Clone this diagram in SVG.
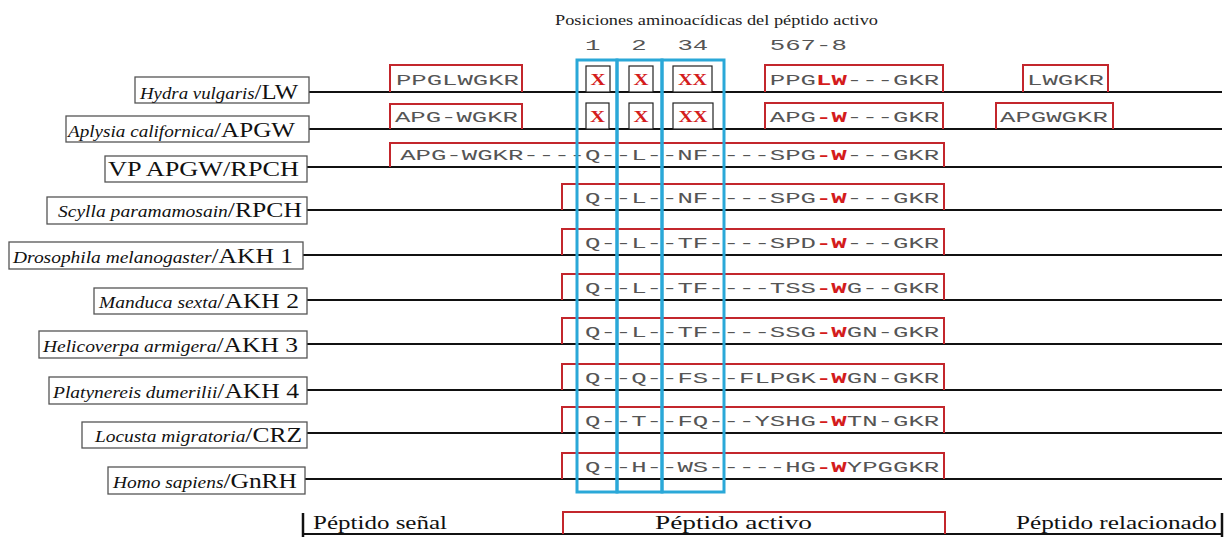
<svg xmlns="http://www.w3.org/2000/svg" width="1228" height="537" viewBox="0 0 1228 537">
<style>
.lbl{fill:none;stroke:#555;stroke-width:1.3}
.lt{font-family:"Liberation Serif",serif;fill:#111}
.it{font-style:italic;font-size:16px}
.up{font-size:21px}
.ln{stroke:#111;stroke-width:2;fill:none}
.rb{fill:none;stroke:#c3262c;stroke-width:2}
.seq{font-family:"Liberation Mono",monospace;font-size:15px;fill:#555}
.r{fill:#d41c1c;font-weight:bold}
.xb{fill:#fff;stroke:#222;stroke-width:1.2}
.xt{font-family:"Liberation Serif",serif;font-size:17px;font-weight:bold;fill:#d41c1c}
.blue{fill:none;stroke:#2aa8d8;stroke-width:3}
.hd{font-family:"Liberation Serif",serif;font-size:15px;fill:#222}
.num{font-family:"Liberation Mono",monospace;font-size:15px;fill:#555}
.lg{font-family:"Liberation Serif",serif;font-size:19px;fill:#111}
</style>

<g id="header">
<text class="hd" x="555" y="25" textLength="323" lengthAdjust="spacingAndGlyphs">Posiciones aminoacídicas del péptido activo</text>
<text class="num" x="585" y="50" textLength="15.4" lengthAdjust="spacingAndGlyphs">1</text>
<text class="num" x="631.2" y="50" textLength="15.4" lengthAdjust="spacingAndGlyphs">2</text>
<text class="num" x="677.4" y="50" textLength="30.8" lengthAdjust="spacingAndGlyphs">34</text>
<text class="num" x="769.8" y="50" textLength="77" lengthAdjust="spacingAndGlyphs">567-8</text>
</g>

<g id="connectors">
<line class="ln" x1="309" y1="92" x2="1222" y2="92"/>
<line class="ln" x1="309" y1="129" x2="1222" y2="129"/>
<line class="ln" x1="307" y1="167" x2="1222" y2="167"/>
<line class="ln" x1="307" y1="210" x2="1222" y2="210"/>
<line class="ln" x1="303" y1="255" x2="1222" y2="255"/>
<line class="ln" x1="307" y1="300" x2="1222" y2="300"/>
<line class="ln" x1="307" y1="344" x2="1222" y2="344"/>
<line class="ln" x1="307" y1="390" x2="1222" y2="390"/>
<line class="ln" x1="307" y1="433" x2="1222" y2="433"/>
<line class="ln" x1="305" y1="479" x2="1222" y2="479"/>
</g>

<g id="row-hydra">
<rect class="lbl" x="135" y="77" width="174" height="26"/>
<text class="lt" x="140" y="99" textLength="158" lengthAdjust="spacingAndGlyphs"><tspan class="it">Hydra vulgaris</tspan><tspan class="up" font-size="20">/LW</tspan></text>
<path class="rb" d="M390,92 V65 H522 V92"/>
<text class="seq" x="396" y="84.5" textLength="123" lengthAdjust="spacingAndGlyphs">PPGLWGKR</text>
<rect class="xb" x="586" y="66" width="24" height="26"/>
<text class="xt" x="590.5" y="85" textLength="15" lengthAdjust="spacingAndGlyphs">X</text>
<rect class="xb" x="629" y="66" width="24" height="26"/>
<text class="xt" x="633.5" y="85" textLength="15" lengthAdjust="spacingAndGlyphs">X</text>
<rect class="xb" x="673" y="66" width="39" height="26"/>
<text class="xt" x="678" y="85" textLength="29" lengthAdjust="spacingAndGlyphs">XX</text>
<path class="rb" d="M765,92 V65 H943 V92"/>
<text class="seq" x="769.8" y="84.5" textLength="169.4" lengthAdjust="spacingAndGlyphs">PPG<tspan class="r">LW</tspan>---GKR</text>
<path class="rb" d="M1023,92 V65 H1108 V92"/>
<text class="seq" x="1027" y="84.5" textLength="77" lengthAdjust="spacingAndGlyphs">LWGKR</text>
</g>

<g id="row-aplysia">
<rect class="lbl" x="66" y="116" width="243" height="26"/>
<text class="lt" x="68" y="137" textLength="227" lengthAdjust="spacingAndGlyphs"><tspan class="it">Aplysia californica</tspan><tspan class="up" font-size="20">/APGW</tspan></text>
<path class="rb" d="M390,129 V104 H522 V129"/>
<text class="seq" x="395" y="121.5" textLength="123" lengthAdjust="spacingAndGlyphs">APG-WGKR</text>
<rect class="xb" x="586" y="103" width="23" height="26"/>
<text class="xt" x="590" y="122" textLength="15" lengthAdjust="spacingAndGlyphs">X</text>
<rect class="xb" x="629" y="103" width="24" height="26"/>
<text class="xt" x="633.5" y="122" textLength="15" lengthAdjust="spacingAndGlyphs">X</text>
<rect class="xb" x="673" y="103" width="40" height="26"/>
<text class="xt" x="678.5" y="122" textLength="29" lengthAdjust="spacingAndGlyphs">XX</text>
<path class="rb" d="M765,129 V103 H943 V129"/>
<text class="seq" x="769.8" y="121.5" textLength="169.4" lengthAdjust="spacingAndGlyphs">APG<tspan class="r">-W</tspan>---GKR</text>
<path class="rb" d="M996,129 V103 H1113 V129"/>
<text class="seq" x="1000" y="121.5" textLength="107.8" lengthAdjust="spacingAndGlyphs">APGWGKR</text>
</g>

<g id="row-vp">
<rect class="lbl" x="105" y="156" width="202" height="26"/>
<text class="lt" x="108" y="176" textLength="191" lengthAdjust="spacingAndGlyphs"><tspan class="up">VP APGW/RPCH</tspan></text>
<path class="rb" d="M390,167 V143 H944 V167"/>
<text class="seq" x="400.2" y="160" textLength="539" lengthAdjust="spacingAndGlyphs">APG-WGKR----Q--L--NF----SPG<tspan class="r">-W</tspan>---GKR</text>
</g>

<g id="row-scylla">
<rect class="lbl" x="47" y="197" width="260" height="27"/>
<text class="lt" x="58" y="217" textLength="244" lengthAdjust="spacingAndGlyphs"><tspan class="it">Scylla paramamosain</tspan><tspan class="up">/RPCH</tspan></text>
<path class="rb" d="M562,210 V184 H944 V210"/>
<text class="seq" x="585" y="202.5" textLength="354.2" lengthAdjust="spacingAndGlyphs">Q--L--NF----SPG<tspan class="r">-W</tspan>---GKR</text>
</g>

<g id="row-drosophila">
<rect class="lbl" x="9" y="242" width="294" height="27"/>
<text class="lt" x="13" y="263" textLength="280" lengthAdjust="spacingAndGlyphs"><tspan class="it">Drosophila melanogaster</tspan><tspan class="up">/AKH 1</tspan></text>
<path class="rb" d="M562,255 V229 H944 V255"/>
<text class="seq" x="585" y="247.5" textLength="354.2" lengthAdjust="spacingAndGlyphs">Q--L--TF----SPD<tspan class="r">-W</tspan>---GKR</text>
</g>

<g id="row-manduca">
<rect class="lbl" x="94" y="288" width="213" height="26"/>
<text class="lt" x="99" y="308" textLength="200" lengthAdjust="spacingAndGlyphs"><tspan class="it">Manduca sexta</tspan><tspan class="up">/AKH 2</tspan></text>
<path class="rb" d="M562,300 V274 H944 V300"/>
<text class="seq" x="585" y="292.5" textLength="354.2" lengthAdjust="spacingAndGlyphs">Q--L--TF----TSS<tspan class="r">-W</tspan>G--GKR</text>
</g>

<g id="row-helicoverpa">
<rect class="lbl" x="39" y="331" width="268" height="27"/>
<text class="lt" x="43" y="352" textLength="255" lengthAdjust="spacingAndGlyphs"><tspan class="it">Helicoverpa armigera</tspan><tspan class="up">/AKH 3</tspan></text>
<path class="rb" d="M562,344 V318 H944 V344"/>
<text class="seq" x="585" y="336.5" textLength="354.2" lengthAdjust="spacingAndGlyphs">Q--L--TF----SSG<tspan class="r">-W</tspan>GN-GKR</text>
</g>

<g id="row-platynereis">
<rect class="lbl" x="49" y="377" width="258" height="27"/>
<text class="lt" x="53" y="398" textLength="246" lengthAdjust="spacingAndGlyphs"><tspan class="it">Platynereis dumerilii</tspan><tspan class="up">/AKH 4</tspan></text>
<path class="rb" d="M562,390 V364 H944 V390"/>
<text class="seq" x="585" y="382.5" textLength="354.2" lengthAdjust="spacingAndGlyphs">Q--Q--FS--FLPGK<tspan class="r">-W</tspan>GN-GKR</text>
</g>

<g id="row-locusta">
<rect class="lbl" x="82" y="422" width="225" height="26"/>
<text class="lt" x="95" y="442" textLength="207" lengthAdjust="spacingAndGlyphs"><tspan class="it">Locusta migratoria</tspan><tspan class="up">/CRZ</tspan></text>
<path class="rb" d="M562,433 V407 H944 V433"/>
<text class="seq" x="585" y="425.5" textLength="354.2" lengthAdjust="spacingAndGlyphs">Q--T--FQ---YSHG<tspan class="r">-W</tspan>TN-GKR</text>
</g>

<g id="row-homo">
<rect class="lbl" x="108" y="467" width="197" height="27"/>
<text class="lt" x="113" y="488" textLength="184" lengthAdjust="spacingAndGlyphs"><tspan class="it">Homo sapiens</tspan><tspan class="up">/GnRH</tspan></text>
<path class="rb" d="M562,479 V453 H944 V479"/>
<text class="seq" x="585" y="471.5" textLength="354.2" lengthAdjust="spacingAndGlyphs">Q--H--WS-----HG<tspan class="r">-W</tspan>YPGGKR</text>
</g>

<g id="positions-frame">
<rect class="blue" x="577" y="60" width="40" height="432"/>
<rect class="blue" x="617" y="60" width="45" height="432"/>
<rect class="blue" x="662" y="60" width="62" height="432"/>
</g>

<g id="legend">
<line x1="303" y1="513" x2="303" y2="537" stroke="#111" stroke-width="2.5"/>
<line x1="1222" y1="513" x2="1222" y2="537" stroke="#111" stroke-width="2.5"/>
<line x1="303" y1="534" x2="1222" y2="534" stroke="#111" stroke-width="2"/>
<path class="rb" d="M563,534 V512 H945 V534"/>
<text class="lg" x="313" y="529" textLength="134" lengthAdjust="spacingAndGlyphs">Péptido señal</text>
<text class="lg" x="655" y="529" textLength="157" lengthAdjust="spacingAndGlyphs">Péptido activo</text>
<text class="lg" x="1016" y="529" textLength="201" lengthAdjust="spacingAndGlyphs">Péptido relacionado</text>
</g>
</svg>
